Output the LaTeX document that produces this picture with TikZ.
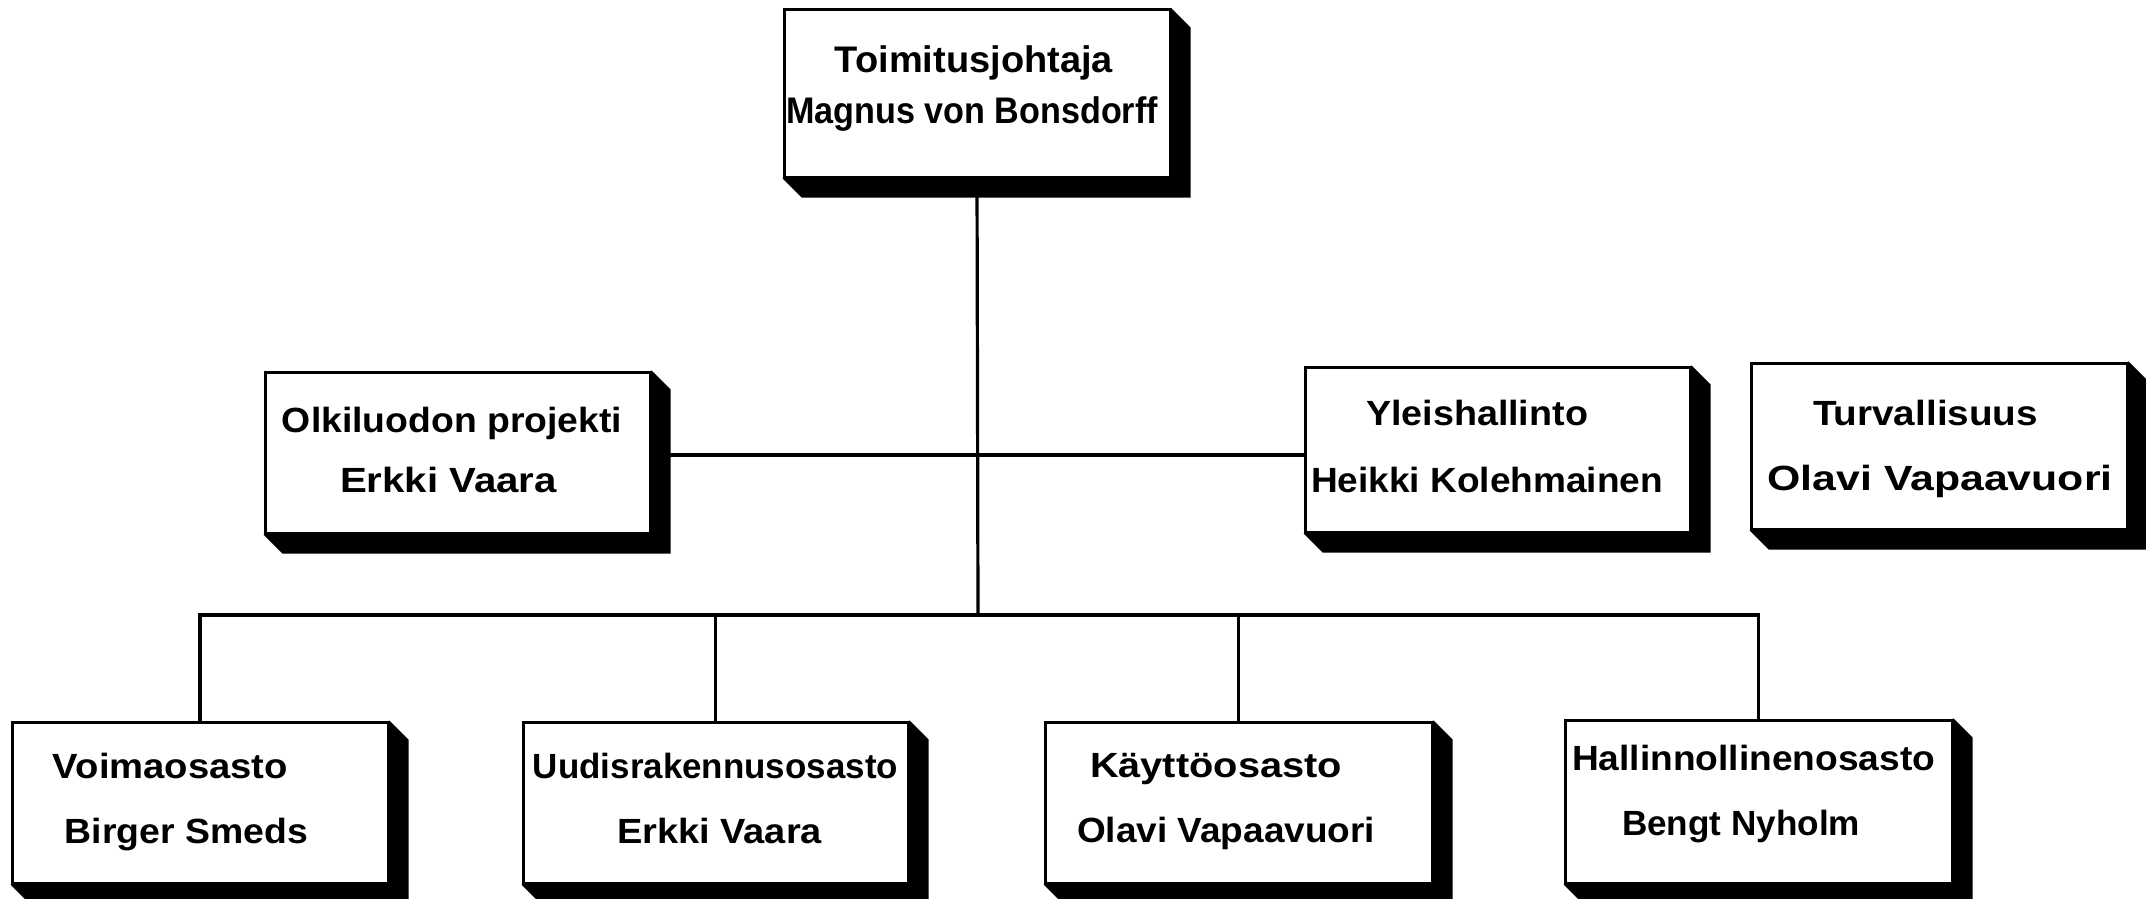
\documentclass[tikz,border=0pt]{standalone}
\usepackage{fontspec}
\setmainfont{Liberation Sans}
\usepackage{graphicx}
\usetikzlibrary{calc}
\pgfdeclarelayer{bg}
\pgfsetlayers{bg,main}
\newcommand\tw[2]{\resizebox{#1}{\height}{#2}}
\newcommand\shd[1]{\fill[black] (#1.north east) -- ($(#1.north east)+(19,19)$) -- ($(#1.south east)+(19,19)$) -- ($(#1.south west)+(19,19)$) -- (#1.south west) -- cycle;}
\begin{document}
\begin{tikzpicture}[x=1pt,y=-1pt,
  box/.style={draw=black, fill=white, line width=3pt, rectangle, inner sep=0pt},
  lbl/.style={anchor=base, inner sep=0pt, font=\fontsize{35}{42}\selectfont\bfseries},
  biglbl/.style={lbl, font=\fontsize{37}{44}\selectfont\bfseries},
  conn/.style={draw=black, line width=3.2pt}]
\useasboundingbox (0,0) rectangle (2146,899);
\begin{pgfonlayer}{bg}
\fill[white] (0,0) rectangle (2146,899);
\end{pgfonlayer}

% boxes
\node[box, minimum width=386pt, minimum height=167pt] (top) at (977,93.5) {};
\node[box, minimum width=385pt, minimum height=161pt] (olki) at (457.5,452.5) {};
\node[box, minimum width=385pt, minimum height=165pt] (ylei) at (1497.5,449.5) {};
\node[box, minimum width=376pt, minimum height=166pt] (turv) at (1939,446) {};
\node[box, minimum width=376pt, minimum height=161pt] (voima) at (200,802.5) {};
\node[box, minimum width=385pt, minimum height=161pt] (uudis) at (715.5,802.5) {};
\node[box, minimum width=387pt, minimum height=161pt] (kaytto) at (1238.5,802.5) {};
\node[box, minimum width=387pt, minimum height=163pt] (hall) at (1758.5,801.5) {};

% labels
\node[biglbl] (t1) at (974,73) {\tw{278pt}{Toimitusjohtaja}};
\node[biglbl] (t2) at (972,123) {\tw{372pt}{Magnus von Bonsdorff}};
\node[lbl] (o1) at (452,432) {\tw{340pt}{Olkiluodon projekti}};
\node[lbl] (o2) at (448.5,492) {\tw{217pt}{Erkki Vaara}};
\node[lbl] (y1) at (1477,425) {\tw{222pt}{Yleishallinto}};
\node[lbl] (y2) at (1487,492) {\tw{352pt}{Heikki Kolehmainen}};
\node[lbl] (s1) at (1925.5,425) {\tw{225pt}{Turvallisuus}};
\node[lbl] (s2) at (1940,490) {\tw{345pt}{Olavi Vapaavuori}};
\node[lbl] (v1) at (170.5,778) {\tw{235pt}{Voimaosasto}};
\node[lbl] (v2) at (186.5,843) {\tw{243pt}{Birger Smeds}};
\node[lbl] (u1) at (715.5,778) {\tw{365pt}{Uudisrakennusosasto}};
\node[lbl] (u2) at (719.5,843) {\tw{205pt}{Erkki Vaara}};
\node[lbl] (k1) at (1216,777) {\tw{252pt}{Käyttöosasto}};
\node[lbl] (k2) at (1226,842) {\tw{298pt}{Olavi Vapaavuori}};
\node[lbl] (h1) at (1753.5,770) {\tw{363pt}{Hallinnollinenosasto}};
\node[lbl] (h2) at (1741,835) {\tw{238pt}{Bengt Nyholm}};

\coordinate (bus) at (978,615);
\coordinate (mid) at (978,455);

\begin{pgfonlayer}{bg}
% connectors
\draw[conn] (top.south) -- (bus);
\draw[conn] (olki.east |- mid) -- (ylei.west |- mid);
\draw[conn] (voima.north) -- (voima.north |- bus) -- (hall.north |- bus) -- (hall.north);
\draw[conn] (uudis.north) -- (uudis.north |- bus);
\draw[conn] (kaytto.north) -- (kaytto.north |- bus);
% shadows
\shd{top}
\shd{olki}
\shd{ylei}
\shd{turv}
\shd{voima}
\shd{uudis}
\shd{kaytto}
\shd{hall}
\end{pgfonlayer}
\end{tikzpicture}
\end{document}
